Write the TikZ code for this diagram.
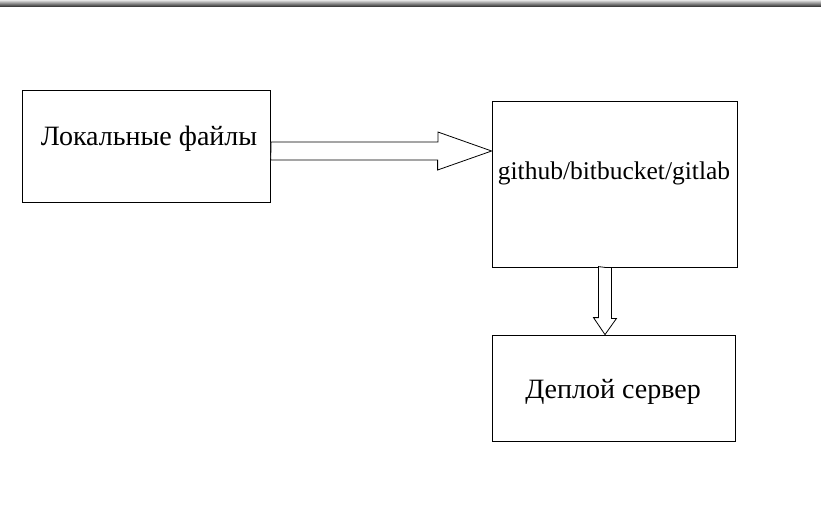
\documentclass[tikz,border=0pt]{standalone}
\usepackage{fontspec}
\setmainfont{Liberation Serif}
\usetikzlibrary{calc}
\begin{document}
\begin{tikzpicture}[x=1pt, y=-1pt,
  box/.style={draw, line width=0.8pt, inner sep=0pt},
  lbl/.style={font=\fontsize{28}{33}\selectfont, inner sep=0pt},
  blockarrow/.style={draw, line width=0.8pt, fill=white, line join=miter}]
  \useasboundingbox (0,0) rectangle (821,514);
  \shade[top color=black!10, bottom color=black!75] (0,0) rectangle (821,6);

  \node[box, minimum width=248pt, minimum height=112pt] (local) at (146,146) {};
  \node[box, minimum width=245pt, minimum height=166pt] (gh) at (614.5,184) {};
  \node[box, minimum width=243pt, minimum height=106pt] (deploy) at (613.5,388) {};

  \node[lbl] (localtxt) at (149,139) {Локальные файлы};
  \node[lbl, font=\fontsize{25.5}{30}\selectfont] (ghtxt) at (614,173) {github/bitbucket/gitlab};
  \node[lbl] (deploytxt) at (613,392) {Деплой сервер};

  % block arrows
  \coordinate (a1) at ($(local.east)+(0.5,5)$);
  \coordinate (a1tip) at ($(gh.west)+(0,-33)$);
  \draw[blockarrow] (a1) -- ++(0,-9) -- ++(167,0) -- ++(0,-10) -- (a1tip)
    -- ++(-54,19) -- ++(0,-10) -- ++(-167,0) -- cycle;
  \coordinate (a2) at ($(gh.south)+(-9.5,0)$);
  \coordinate (a2tip) at ($(deploy.north)+(-8.5,0)$);
  \draw[blockarrow] (a2) -- ++(6.5,0) -- ++(0,51) -- ++(5,0) -- (a2tip)
    -- ++(-11.5,-17) -- ++(5,0) -- ++(0,-51) -- cycle;
\end{tikzpicture}
\end{document}
